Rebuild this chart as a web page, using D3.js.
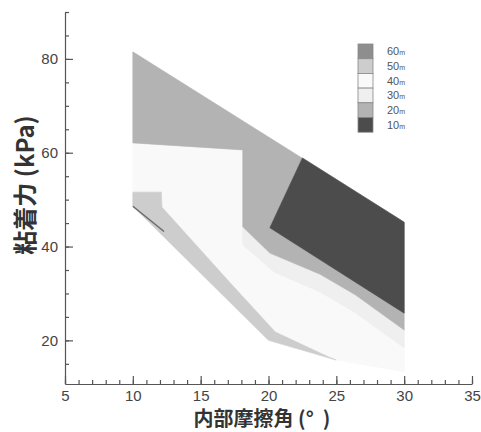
<!DOCTYPE html>
<html>
<head>
<meta charset="utf-8">
<script src="https://cdn.jsdelivr.net/npm/d3@7"></script>
<style>
  body { margin: 0; background: #fff; }
  svg { display: block; }
</style>
</head>
<body>
<div id="chart"></div>
<script>
// Contour map of cohesion vs internal friction angle

const xTicks = [5, 10, 15, 20, 25, 30, 35];
const yTicks = [20, 40, 60, 80];
const levels = ["60m", "50m", "40m", "30m", "20m", "10m"];

// contour regions as [friction angle, cohesion]
const outline40 = [[10, 81.5], [30, 45.2], [30, 13.3], [25, 15.8], [20, 20], [10, 48.6]];
const band30 = [[18.1, 44.2], [20.1, 38.6], [23.8, 34.1], [26.4, 29.7], [30, 22.2],
                [30, 18.4], [26.4, 25.9], [23.8, 30.3], [20.4, 34.6], [18.1, 40.4]];
const region20 = [[10, 81.5], [30, 45.2], [30, 22.2], [26.4, 29.7], [23.8, 34.1], [20.1, 38.6],
                  [18.1, 44.2], [18.1, 60.6], [10, 62.1]];
const region10 = [[22.5, 58.9], [30, 45.2], [30, 25.8], [20.1, 44.0]];
const band50 = [[10, 51.6], [12.1, 51.6], [12.15, 48.4], [17.2, 32.2], [20.5, 21.8],
                [24.4, 16.5], [25, 15.8], [20, 20], [10, 48.6]];

const regions = [
    { level: "40m", pts: outline40 },
    { level: "30m", pts: band30 },
    { level: "20m", pts: region20 },
    { level: "10m", pts: region10 },
    { level: "50m", pts: band50 }
];

const width = 481, height = 432;
const colour = d3.scaleOrdinal(levels,
    ["#8e8e8e", "#cdcdcd", "#f9f9f9", "#efefef", "#b3b3b3", "#4c4c4c"]);

const svg = d3.select("#chart").append("svg")
    .attr("width", width)
    .attr("height", height);

const x = d3.scaleLinear().domain([5, 35]).range([65, 472]);
const y = d3.scaleLinear().domain([10.7, 90]).range([384, 12]);

const line = d3.line().x(d => x(d[0])).y(d => y(d[1]));

// filled contour bands
svg.append("g")
    .selectAll("path")
    .data(regions)
    .join("path")
    .attr("d", d => line(d.pts) + "Z")
    .attr("fill", d => colour(d.level))
    .attr("stroke", d => colour(d.level))
    .attr("stroke-width", 0.6);

// dark rim on the lower-left edge
svg.append("path")
    .attr("d", line([band50[8], [12.3, 43.2]]))
    .attr("stroke", "#6a6a6a")
    .attr("stroke-width", 1.5)
    .attr("fill", "none");

// axes, ticks pointing inward
const fontNum = "'Liberation Sans', Arial, sans-serif";

const xMinor = svg.append("g").attr("transform", `translate(0,${y.range()[0]})`)
    .call(d3.axisBottom(x).tickValues(d3.range(5, 36, 1)).tickSize(-4).tickFormat(""));
xMinor.select(".domain").remove();

const xAxis = svg.append("g").attr("transform", `translate(0,${y.range()[0]})`)
    .call(d3.axisBottom(x).tickValues(xTicks).tickSizeInner(-8).tickSizeOuter(0).tickPadding(6));

const yMinor = svg.append("g").attr("transform", `translate(${x.range()[0]},0)`)
    .call(d3.axisLeft(y).tickValues(d3.range(15, 91, 5)).tickSize(-4).tickFormat(""));
yMinor.select(".domain").remove();

const yAxis = svg.append("g").attr("transform", `translate(${x.range()[0]},0)`)
    .call(d3.axisLeft(y).tickValues(yTicks).tickSizeInner(-8).tickSizeOuter(0).tickPadding(7));

svg.selectAll(".domain, .tick line")
    .attr("stroke", "#555")
    .attr("stroke-width", 1.2);
svg.selectAll(".tick text")
    .attr("fill", "#444")
    .style("font-family", fontNum)
    .style("font-size", "15px");

// axis titles
const fontCJK = "'Noto Sans CJK JP', 'Noto Sans CJK SC', sans-serif";

svg.append("text")
    .attr("x", 262)
    .attr("y", 426)
    .attr("text-anchor", "middle")
    .attr("fill", "#333")
    .style("font-family", fontCJK)
    .style("font-weight", "bold")
    .style("font-size", "20px")
    .style("white-space", "pre")
    .text("内部摩擦角 (°  )");

svg.append("text")
    .attr("transform", "translate(34,185) rotate(-90)")
    .attr("text-anchor", "middle")
    .attr("fill", "#333")
    .style("font-family", fontCJK)
    .style("font-weight", "bold")
    .style("font-size", "24px")
    .text("粘着力 (kPa)");

// legend
const boxH = 14.7;
const legend = svg.append("g").attr("transform", "translate(358,44)");

legend.selectAll("rect")
    .data(levels)
    .join("rect")
    .attr("x", 0)
    .attr("y", (d, i) => i * boxH)
    .attr("width", 15)
    .attr("height", boxH)
    .attr("fill", d => colour(d))
    .attr("stroke", "#888")
    .attr("stroke-width", 0.8);

const lab = legend.selectAll("text")
    .data(levels)
    .join("text")
    .attr("x", 29)
    .attr("y", (d, i) => i * boxH + boxH / 2 + 4)
    .attr("fill", "#555")
    .style("font-family", fontNum)
    .style("font-size", "11px");
lab.append("tspan").text(d => d.replace("m", ""));
lab.append("tspan").style("font-size", "7px").text("m");
</script>
</body>
</html>
